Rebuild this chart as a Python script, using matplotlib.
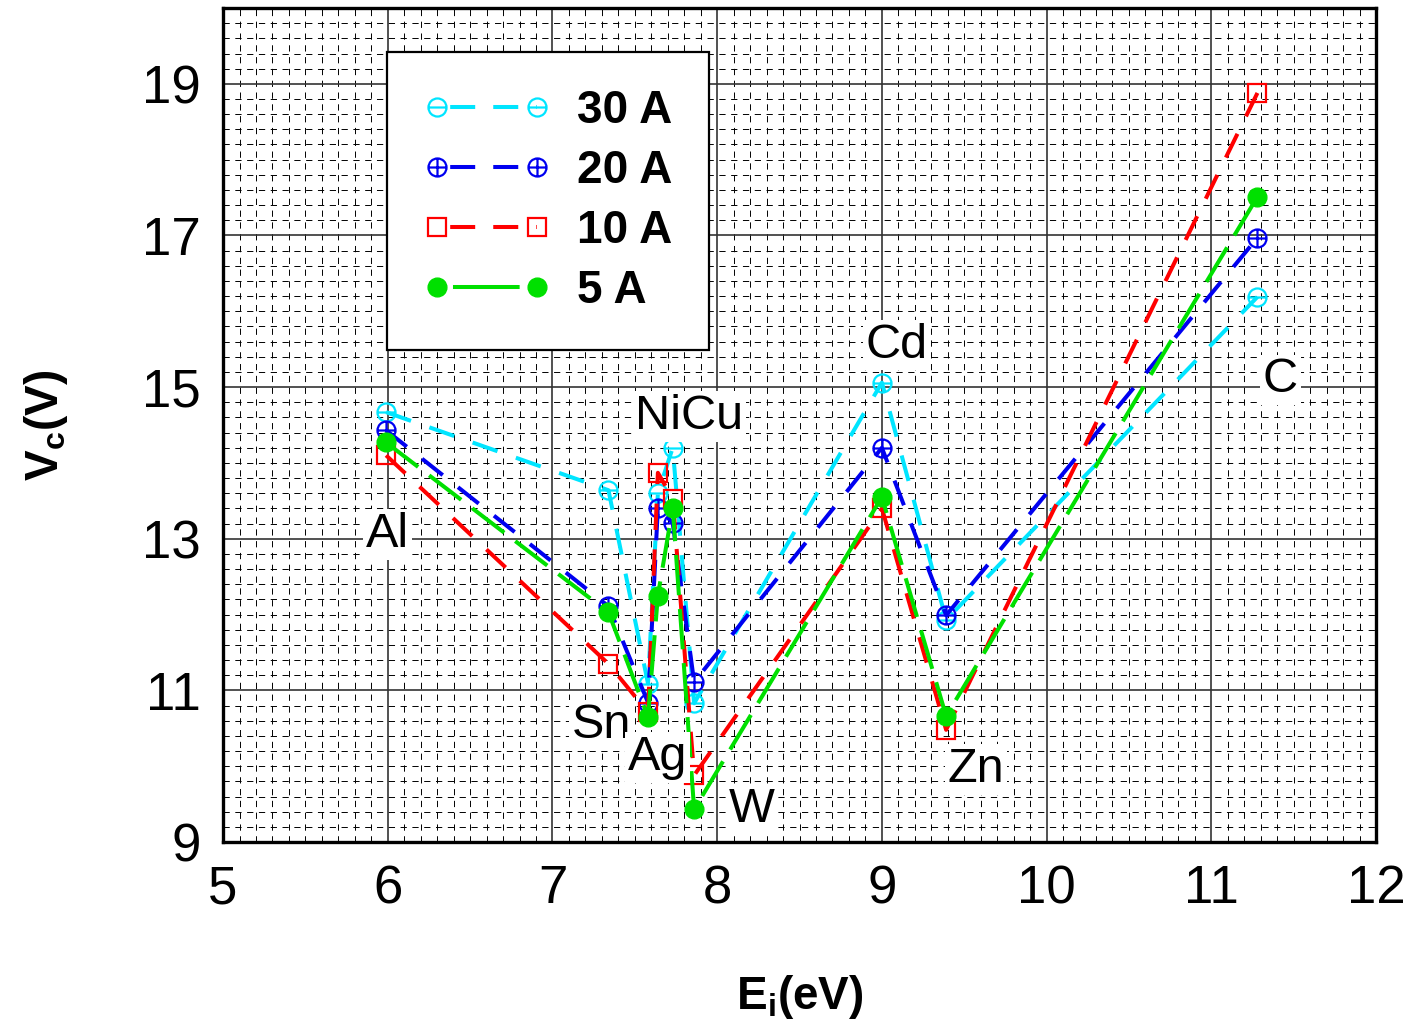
import matplotlib
matplotlib.use("Agg")
import matplotlib.pyplot as plt
from matplotlib.path import Path
from matplotlib.lines import Line2D
from matplotlib.ticker import MultipleLocator

# ---------------- data ----------------
elements = ['Al', 'Sn', 'Ag', 'Ni', 'Cu', 'W', 'Cd', 'Zn', 'C']
Ei = [5.99, 7.34, 7.58, 7.64, 7.73, 7.86, 9.00, 9.39, 11.28]
v30 = [14.67, 13.64, 11.09, 13.60, 14.20, 10.83, 15.06, 11.93, 16.19]
v20 = [14.43, 12.11, 10.84, 13.41, 13.21, 11.11, 14.20, 11.99, 16.97]
v10 = [14.10, 11.35, 10.71, 13.87, 13.53, 9.88, 13.40, 10.48, 18.88]
v5 = [14.27, 12.03, 10.65, 12.25, 13.41, 9.43, 13.55, 10.66, 17.51]
series_labels = ['30 A', '20 A', '10 A', '5 A']

label_texts = ['Al', 'Sn', 'Ag', 'NiCu', 'W', 'Cd', 'Zn', 'C']
label_x = [6.00, 7.30, 7.64, 7.83, 8.21, 9.09, 9.57, 11.42]
label_y = [12.89, 10.37, 9.95, 14.45, 9.26, 15.39, 9.79, 14.93]

xticks = [5, 6, 7, 8, 9, 10, 11, 12]
yticks = [9, 11, 13, 15, 17, 19]

# ---------------- style ----------------
plt.rcParams['font.family'] = ['Liberation Sans', 'DejaVu Sans']
plt.rcParams['lines.scale_dashes'] = False
plt.rcParams['mathtext.fontset'] = 'custom'
plt.rcParams['mathtext.rm'] = 'Liberation Sans'
plt.rcParams['mathtext.bf'] = 'Liberation Sans:bold'

cyan = '#00E5FF'
blue = '#0000F0'
red = '#FF0000'
green = '#00E000'


def compound(segments):
    c = Path.unit_circle()
    verts = list(c.vertices)
    codes = list(c.codes)
    for (x0, y0, x1, y1) in segments:
        verts += [(x0, y0), (x1, y1)]
        codes += [Path.MOVETO, Path.LINETO]
    return Path(verts, codes)


ominus = compound([(-1, 0, 1, 0)])
oplus = compound([(-1, 0, 1, 0), (0, -1, 0, 1)])

fig = plt.figure(figsize=(14.09, 10.29), dpi=100)
ax = fig.add_axes([0.1583, 0.1817, 0.9766 - 0.1583, 0.9922 - 0.1817])

lw = 2.9
dash = (0, (19, 14))
gdash = (0, (29, 10))
ms_o = 13
ms_s = 13.5
ms_d = 13.5

ax.plot(Ei, v30, color=cyan, lw=lw, ls=dash, marker=ominus, ms=ms_o,
        mfc='none', mec=cyan, mew=1.6, zorder=3)
ax.plot(Ei, v20, color=blue, lw=lw, ls=dash, marker=oplus, ms=ms_o,
        mfc='none', mec=blue, mew=1.6, zorder=4)
ax.plot(Ei, v10, color=red, lw=lw, ls=dash, marker='s', ms=ms_s,
        mfc='none', mec=red, mew=1.6, zorder=5)
ax.plot(Ei, v5, color=green, lw=lw, ls=gdash, marker='o', ms=ms_d,
        mfc=green, mec=green, mew=1, zorder=6)

for t, x, y in zip(label_texts, label_x, label_y):
    ax.text(x, y, t, fontsize=35, ha='center', va='baseline', zorder=10,
            bbox=dict(facecolor='white', edgecolor='none', pad=2))

ax.set_xlim(5, 12)
ax.set_ylim(9, 20)
ax.set_xticks(xticks)
ax.set_yticks(yticks)
ax.xaxis.set_minor_locator(MultipleLocator(0.1))
ax.yaxis.set_minor_locator(MultipleLocator(0.2))
ax.grid(which='major', color='#333333', lw=1.2, ls='-', zorder=1)
ax.grid(which='minor', color='black', lw=0.7, ls=(0, (4.5, 4)), zorder=0)
ax.set_axisbelow(True)
ax.tick_params(which='both', length=0, labelsize=38, pad=16)
for s in ax.spines.values():
    s.set_linewidth(2.4)
    s.set_zorder(12)

ax.set_xlabel(r'$\mathbf{E_i}$(eV)', fontsize=33, fontweight='bold', labelpad=42)
ax.set_ylabel(r'$\mathbf{V_c}$(V)', fontsize=33, fontweight='bold', labelpad=52)

# legend
offset_pts = 19 + 14 - 11.5
handles = [
    Line2D([], [], color=cyan, lw=lw, ls=(offset_pts, (18, 13)), marker=ominus, ms=ms_o,
           mfc='none', mec=cyan, mew=1.6),
    Line2D([], [], color=blue, lw=lw, ls=(offset_pts, (18, 13)), marker=oplus, ms=ms_o,
           mfc='none', mec=blue, mew=1.6),
    Line2D([], [], color=red, lw=lw, ls=(offset_pts, (18, 13)), marker='s', ms=ms_s,
           mfc='none', mec=red, mew=1.6),
    Line2D([], [], color=green, lw=lw, ls=(48 + 24 - 11.5, (48, 24)), marker='o', ms=ms_d,
           mfc=green, mec=green, mew=1),
]
leg = ax.legend(handles, series_labels, loc='upper left',
                bbox_to_anchor=(0.1422, 0.9472), borderaxespad=0,
                numpoints=2, handlelength=2.77, handletextpad=0.58,
                borderpad=0.8, labelspacing=0.35, fancybox=False,
                framealpha=1, edgecolor='black',
                prop={'family': 'Liberation Sans', 'weight': 'bold', 'size': 33})
leg.get_frame().set_linewidth(1.6)
leg.set_zorder(11)

fig.savefig('out.png', dpi=100, facecolor='white')
